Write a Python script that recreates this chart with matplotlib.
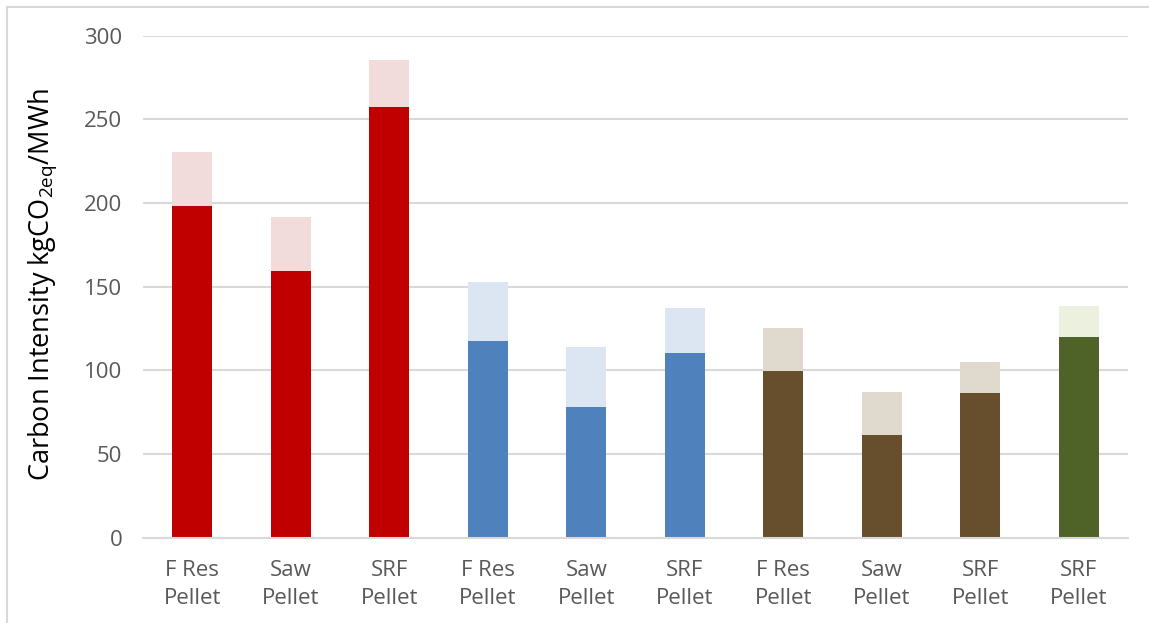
import numpy as np
import matplotlib.pyplot as plt
from matplotlib.lines import Line2D

plt.rcParams['font.family'] = ['Open Sans', 'DejaVu Sans']

categories = ['F Res\nPellet', 'Saw\nPellet', 'SRF\nPellet',
              'F Res\nPellet', 'Saw\nPellet', 'SRF\nPellet',
              'F Res\nPellet', 'Saw\nPellet', 'SRF\nPellet',
              'SRF\nPellet']

# lower (solid) part and full height of each bar, kgCO2eq/MWh
base_vals = [198, 159.5, 257.3, 117.2, 78, 110.4, 99.8, 61.2, 86.4, 119.8]
total_vals = [230.5, 191.7, 285.6, 152.6, 114, 137.3, 125.2, 87, 104.9, 138.4]

dark_cols = ['#C00000'] * 3 + ['#4F81BD'] * 3 + ['#674F2D'] * 3 + ['#4F6228']
light_cols = ['#F2DCDB'] * 3 + ['#DCE6F2'] * 3 + ['#E0D9CE'] * 3 + ['#EBF1DE']

base = np.array(base_vals)
total = np.array(total_vals)
x = np.arange(len(categories))

fig = plt.figure(figsize=(11.49, 6.23), dpi=100)
ax = fig.add_axes([0.1245, 0.1372, 0.8572, 0.8055])

ax.bar(x, base, width=0.41, color=dark_cols, zorder=3)
ax.bar(x, total - base, bottom=base, width=0.41, color=light_cols, zorder=3)

ax.set_xlim(-0.5, len(categories) - 0.5)
ax.set_ylim(0, 300)
ax.set_yticks(np.arange(0, 301, 50))
ax.set_xticks(x)
ax.set_xticklabels(categories, fontsize=16, color='#595959', linespacing=1.45)
ax.tick_params(axis='y', length=0, pad=15, labelsize=16, labelcolor='#595959')
ax.tick_params(axis='x', length=0, pad=16)

ax.yaxis.grid(True, color='#D9D9D9', linewidth=1.5, zorder=0)
for side in ['top', 'right', 'left']:
    ax.spines[side].set_visible(False)
ax.spines['bottom'].set_color('#D9D9D9')
ax.spines['bottom'].set_linewidth(1.5)
ax.spines['bottom'].set_zorder(4)

fig.text(43 / 1149, 0.543, r'Carbon Intensity kgCO$\mathregular{_{2eq}}$/MWh',
         rotation=90, ha='center', va='center', fontsize=19.5, color='black')

# frame lines along the top and left edges
fig.add_artist(Line2D([7 / 1149, 7 / 1149], [0, 1 - 7 / 623],
                      color='#D9D9D9', linewidth=1.5, transform=fig.transFigure))
fig.add_artist(Line2D([7 / 1149, 1], [1 - 7 / 623, 1 - 7 / 623],
                      color='#D9D9D9', linewidth=1.5, transform=fig.transFigure))

fig.savefig('out.png', dpi=100)
